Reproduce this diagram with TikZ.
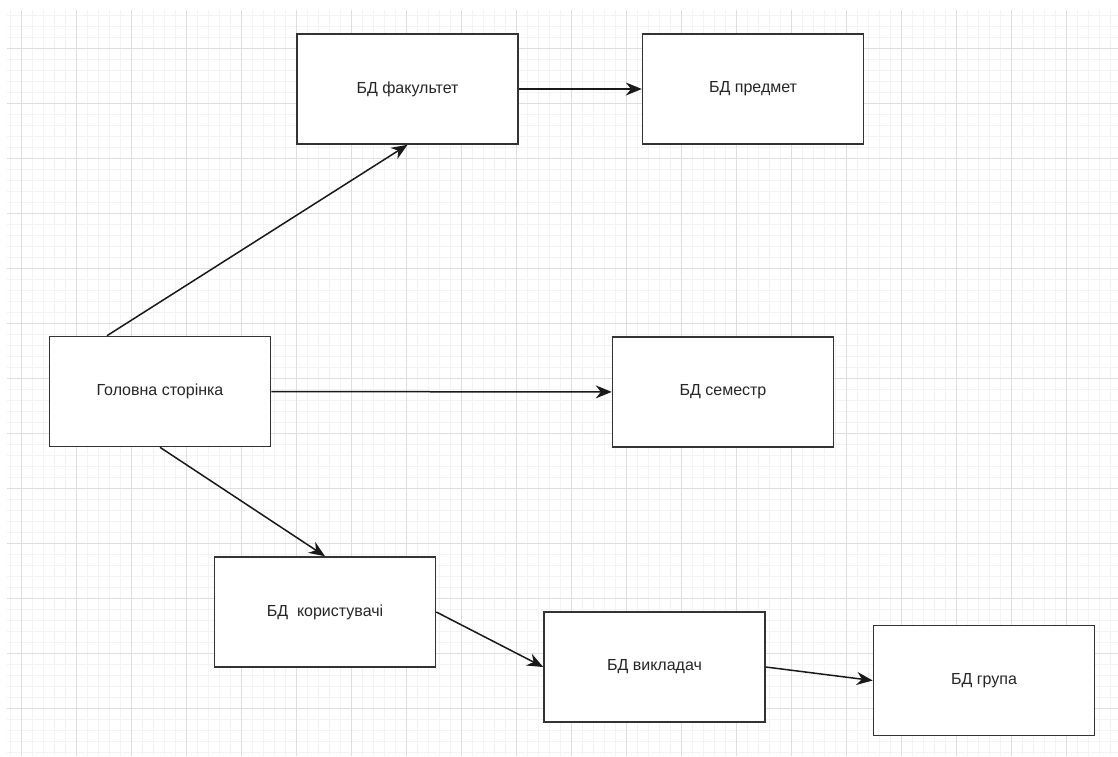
\documentclass[tikz,border=0pt]{standalone}
\usepackage{fontspec}
\setmainfont{Liberation Sans}
\usepackage{xcolor}
\usepackage{tikz}
\usetikzlibrary{arrows.meta,positioning}
\definecolor{gridminor}{HTML}{F3F3F3}
\definecolor{gridmajor}{HTML}{DEDEDE}
\tikzstyle{block}=[
draw=black!80,
line width=1.6pt,
fill=white,
minimum width=221pt,
minimum height=110pt,
inner sep=0pt,
text=black!85,
font=\fontsize{16}{19}\selectfont
]
\tikzstyle{arrow}=[
line width=1.5pt,
black!90,
-{Stealth[length=16pt,width=13pt]}
]
\begin{document}
\begin{tikzpicture}[x=1pt,y=-1pt]

% background and grid
\useasboundingbox[fill=white] (0,0) rectangle (1118,756);
\foreach \gx in {10,21,...,1118} {
  \draw[gridminor,line width=0.7pt] (\gx,10) -- (\gx,756);
}
\foreach \gy in {15,26,...,756} {
  \draw[gridminor,line width=0.7pt] (7,\gy) -- (1118,\gy);
}
\foreach \gx in {21,76,...,1118} {
  \draw[gridmajor,line width=1pt] (\gx,10) -- (\gx,756);
}
\foreach \gy in {48,103,...,756} {
  \draw[gridmajor,line width=1pt] (7,\gy) -- (1118,\gy);
}

\node (home) [block] at (160,391.5) {Головна сторінка};
\node (faculty) [block] at (407.5,89) {БД факультет};
\node (subject) [block, right=123pt of faculty] {БД предмет};
\node (semester) [block] at (723,392) {БД семестр};
\node (users) [block] at (325,612) {БД\ \ користувачі};
\node (teacher) [block] at (654.5,667) {БД викладач};
\node (group) [block] at (984,680.5) {БД група};

\draw [arrow] ([xshift=-53pt]home.north) -- (faculty.south);
\draw [arrow] (faculty) -- (subject);
\draw [arrow] (home) -- (semester);
\draw [arrow] (home.south) -- (users.north);
\draw [arrow] (users.east) -- (teacher.west);
\draw [arrow] (teacher.east) -- (group.west);

\end{tikzpicture}
\end{document}
